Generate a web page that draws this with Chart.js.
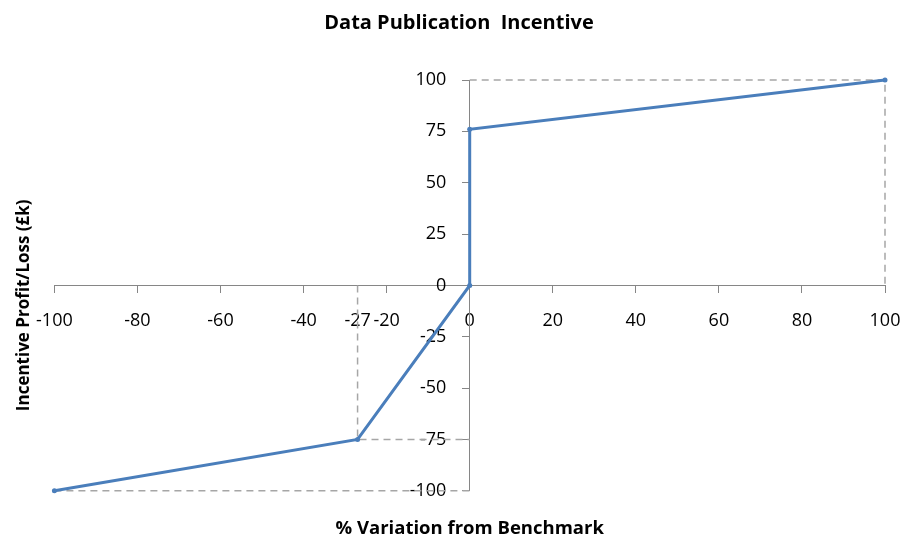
<!DOCTYPE html>
<html>
<head>
<meta charset="utf-8">
<title>Data Publication Incentive</title>
<script src="https://cdn.jsdelivr.net/npm/chart.js@4/dist/chart.umd.min.js"></script>
<style>
  html, body { margin: 0; padding: 0; background: #fff; }
  #wrap { width: 907px; height: 536px; position: relative; }
</style>
</head>
<body>
<div id="wrap"><canvas id="incentiveChart"></canvas></div>
<script>
// values
var variation = [-100, -27, 0, 0, 100];          // % variation from benchmark
var profitLoss = [-100, -75, 0, 76, 100];        // incentive profit/loss (£k)

// dashed guide lines
var guideLowX = [-100, 0];
var guideLowY = [-100, -100];
var guideMidX = [-27, -27, 0];
var guideMidY = [0, -75, -75];
var guideTopX = [0, 100, 100];
var guideTopY = [100, 100, 0];

var xTicks = [-100, -80, -60, -40, -27, -20, 0, 20, 40, 60, 80, 100];
var yTicks = [-100, -75, -50, -25, 0, 25, 50, 75, 100];

(function() {
  var blue = '#4a7ebb';
  var guide = '#a6a6a6';
  var axisGrey = '#868686';
  var font = "'Open Sans', 'Noto Sans', sans-serif";

  function points(xs, ys) {
    return xs.map(function(x, i) { return { x: x, y: ys[i] }; });
  }

  function guideSet(xs, ys) {
    return {
      data: points(xs, ys),
      showLine: true,
      borderColor: guide,
      borderWidth: 1.5,
      borderDash: [7, 5],
      pointRadius: 0,
      order: 2,
      clip: false
    };
  }

  function fixedTicks(list) {
    return function(scale) {
      scale.ticks = list.map(function(v) { return { value: v }; });
    };
  }

  // title-only scales used to reserve room round the plot
  function spacer(position, title) {
    return {
      type: 'linear',
      position: position,
      display: true,
      grid: { display: false, drawTicks: false },
      border: { display: false },
      ticks: { display: false },
      title: title
    };
  }

  Chart.defaults.font.family = font;
  Chart.defaults.color = '#000';

  new Chart(document.getElementById('incentiveChart'), {
    type: 'scatter',
    data: {
      datasets: [
        {
          data: points(variation, profitLoss),
          showLine: true,
          borderColor: blue,
          backgroundColor: blue,
          borderWidth: 3,
          pointRadius: 2.5,
          pointBorderWidth: 0,
          order: 1,
          clip: false
        },
        guideSet(guideLowX, guideLowY),
        guideSet(guideMidX, guideMidY),
        guideSet(guideTopX, guideTopY)
      ]
    },
    options: {
      responsive: true,
      maintainAspectRatio: false,
      animation: false,
      layout: { padding: { left: 11, right: 0, top: 0, bottom: 0 } },
      plugins: {
        legend: { display: false },
        tooltip: { enabled: false },
        title: {
          display: true,
          text: 'Data Publication  Incentive',
          font: { size: 20, weight: 'bold' },
          padding: { top: 11, bottom: 45 }
        }
      },
      scales: {
        x: {
          type: 'linear',
          min: -100,
          max: 100,
          position: { y: 0 },
          afterBuildTicks: fixedTicks(xTicks),
          // the end labels may hang over the plot edges without shrinking it
          afterFit: function(s) { s.paddingLeft = 0; s.paddingRight = 0; },
          border: { display: true, color: axisGrey, width: 1 },
          grid: {
            drawOnChartArea: false,
            drawTicks: true,
            tickLength: 7,
            color: function(ctx) { return ctx.tick && ctx.tick.value === -27 ? 'rgba(0,0,0,0)' : axisGrey; }
          },
          ticks: { font: { size: 18 }, padding: 18, autoSkip: false, maxRotation: 0 }
        },
        y: {
          type: 'linear',
          min: -100,
          max: 100,
          position: { x: 0 },
          afterBuildTicks: fixedTicks(yTicks),
          afterFit: function(s) { s.paddingTop = 0; s.paddingBottom = 0; },
          border: { display: true, color: axisGrey, width: 1 },
          grid: { drawOnChartArea: false, drawTicks: true, tickLength: 7, color: axisGrey },
          // a centred axis gets no label padding, so keep the labels clear of it with spaces
          ticks: { font: { size: 18 }, callback: function(v) { return v + '     '; } }
        },
        xTitle: spacer('bottom', {
          display: true,
          text: '% Variation from Benchmark',
          font: { size: 18.5, weight: 'bold' },
          padding: { top: 27, bottom: -4 }
        }),
        yTitle: spacer('left', {
          display: true,
          text: 'Incentive Profit/Loss (£k)         ',
          font: { size: 17, weight: 'bold' },
          padding: { top: 3, bottom: 20 }
        }),
        rightGap: spacer('right', {
          display: true,
          text: '',
          font: { size: 1, lineHeight: 1 },
          padding: { top: 0, bottom: 21 }
        })
      }
    }
  });
})();
</script>
</body>
</html>
